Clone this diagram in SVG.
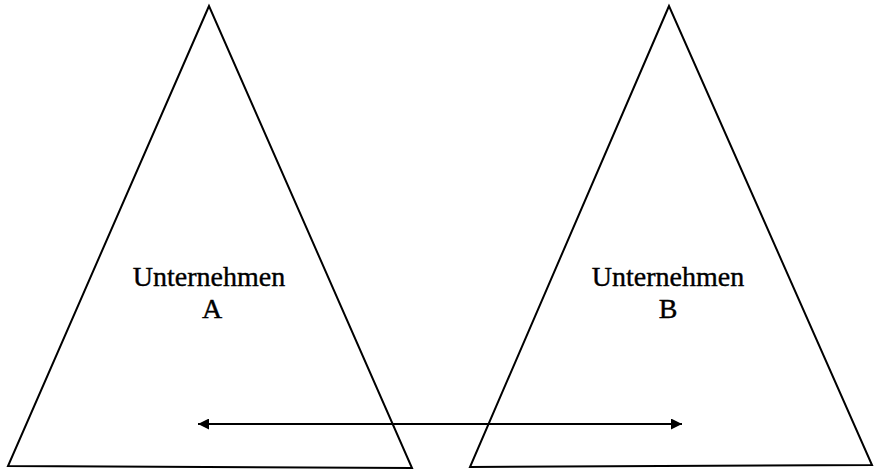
<svg xmlns="http://www.w3.org/2000/svg" width="876" height="472" viewBox="0 0 876 472">
<style>
.tri{fill:none;stroke:#000;stroke-width:2;stroke-linejoin:miter}
.lbl{font-family:"Liberation Serif","Times New Roman",serif;font-size:28px;fill:#000;stroke:#000;stroke-width:0.4;text-anchor:middle}
.con{stroke:#000;stroke-width:2;fill:none}
</style>
<defs>
<marker id="ah" viewBox="0 0 10 10" refX="10" refY="5" markerWidth="16" markerHeight="11" markerUnits="userSpaceOnUse" orient="auto-start-reverse">
<path d="M0,0 L10,5 L0,10 z" fill="#000"/>
</marker>
</defs>
<rect width="876" height="472" fill="#fff"/>
<g id="nodeA">
<polygon class="tri" points="209,6 8,466 412,468"/>
<text class="lbl" x="209" y="286">Unternehmen</text>
<text class="lbl" x="212" y="318">A</text>
</g>
<g id="nodeB">
<polygon class="tri" points="669,6 470,467 872,465"/>
<text class="lbl" x="668" y="286">Unternehmen</text>
<text class="lbl" x="668" y="318">B</text>
</g>
<g id="connectors">
<line class="con" x1="198" y1="424" x2="682" y2="424" marker-start="url(#ah)" marker-end="url(#ah)"/>
</g>
</svg>
